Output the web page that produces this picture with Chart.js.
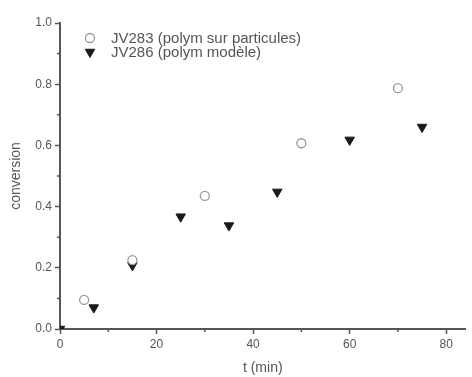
<!DOCTYPE html>
<html>
<head>
<meta charset="utf-8">
<script src="https://cdn.jsdelivr.net/npm/chart.js@4.4.0/dist/chart.umd.min.js"></script>
<style>
  html, body { margin: 0; padding: 0; background: #fff; }
  #wrap { width: 472px; height: 377px; }
</style>
</head>
<body>
<div id="wrap"><canvas id="chart"></canvas></div>
<script>
// data
var seriesNames = ['JV283 (polym sur particules)', 'JV286 (polym modèle)'];
var jv283Time = [5, 15, 30, 50, 70];
var jv283Conv = [0.095, 0.225, 0.435, 0.607, 0.787];
var jv286Time = [0, 7, 15, 25, 35, 45, 60, 75];
var jv286Conv = [0, 0.07, 0.208, 0.367, 0.338, 0.448, 0.618, 0.66];

var xMajorTicks = [0, 20, 40, 60, 80];
var xMinorTicks = [10, 30, 50, 70];
var yMinorTicks = [0.1, 0.3, 0.5, 0.7, 0.9];

var axisColor = '#555';
var textColor = '#555';
var font = 'Liberation Sans, Arial, sans-serif';

function toPoints(xs, ys) {
	return xs.map(function (x, i) { return { x: x, y: ys[i] } })
}

// short minor ticks + legend drawn inside the plot area
var extras = {
	id: 'extras',
	afterDraw: function (chart) {
		var ctx = chart.ctx
		var xs = chart.scales.x, ys = chart.scales.y
		var area = chart.chartArea
		ctx.save()
		ctx.strokeStyle = axisColor
		ctx.lineWidth = 1.5
		ctx.beginPath()
		xMinorTicks.forEach(function (v) {
			var px = xs.getPixelForValue(v)
			ctx.moveTo(px, area.bottom); ctx.lineTo(px, area.bottom + 3)
		})
		yMinorTicks.forEach(function (v) {
			var py = ys.getPixelForValue(v)
			ctx.moveTo(area.left, py); ctx.lineTo(area.left - 3, py)
		})
		ctx.stroke()

		// legend
		ctx.font = '15px ' + font
		ctx.textBaseline = 'middle'
		var lx = area.left + 30, ly = area.top + 15
		chart.data.datasets.forEach(function (ds, i) {
			var y = ly + i * 14
			var opts = {
				pointStyle: ds.pointStyle,
				rotation: ds.rotation || 0,
				radius: ds.pointRadius,
				borderWidth: ds.pointBorderWidth
			}
			ctx.strokeStyle = ds.pointBorderColor
			ctx.fillStyle = ds.pointBackgroundColor
			ctx.lineWidth = ds.pointBorderWidth
			Chart.helpers.drawPoint(ctx, opts, lx, y)
			ctx.fillStyle = textColor
			ctx.fillText(ds.label, lx + 21, y + 1)
		})
		ctx.restore()
	}
}

new Chart(document.getElementById('chart'), {
	type: 'scatter',
	data: {
		datasets: [
			{
				label: seriesNames[0],
				data: toPoints(jv283Time, jv283Conv),
				pointStyle: 'circle',
				pointRadius: 4.5,
				pointBorderWidth: 1.3,
				pointBorderColor: '#999',
				pointBackgroundColor: '#fff'
			},
			{
				label: seriesNames[1],
				data: toPoints(jv286Time, jv286Conv),
				pointStyle: 'triangle',
				rotation: 180,
				pointRadius: 5.5,
				pointBorderWidth: 1,
				pointBorderColor: '#1a1a1a',
				pointBackgroundColor: '#1a1a1a'
			}
		]
	},
	options: {
		responsive: true,
		maintainAspectRatio: false,
		animation: false,
		layout: { padding: { top: 23, right: 2, left: 8, bottom: 0 } },
		plugins: { legend: { display: false }, tooltip: { enabled: false } },
		scales: {
			x: {
				type: 'linear',
				min: 0,
				max: 84,
				border: { color: axisColor, width: 2 },
				grid: { drawOnChartArea: false, tickLength: 5, tickColor: axisColor, tickWidth: 1.5 },
				afterBuildTicks: function (s) {
					s.ticks = xMajorTicks.map(function (v) { return { value: v } })
				},
				ticks: {
					color: textColor,
					font: { family: font, size: 12 },
					padding: 3
				},
				title: {
					display: true,
					text: 't (min)',
					color: textColor,
					font: { family: font, size: 14 },
					padding: { top: 4, bottom: 0 }
				},
				afterFit: function (s) { s.height = 48 }
			},
			y: {
				type: 'linear',
				min: 0,
				max: 1,
				border: { color: axisColor, width: 2 },
				grid: { drawOnChartArea: false, tickLength: 5, tickColor: axisColor, tickWidth: 1.5 },
				ticks: {
					stepSize: 0.2,
					color: textColor,
					font: { family: font, size: 12 },
					padding: 3,
					callback: function (v) { return v.toFixed(1) }
				},
				title: {
					display: true,
					text: 'conversion',
					color: textColor,
					font: { family: font, size: 14 },
					padding: { top: 0, bottom: 4 }
				},
				afterFit: function (s) { s.width = 52 }
			}
		}
	},
	plugins: [extras]
})
</script>
</body>
</html>
